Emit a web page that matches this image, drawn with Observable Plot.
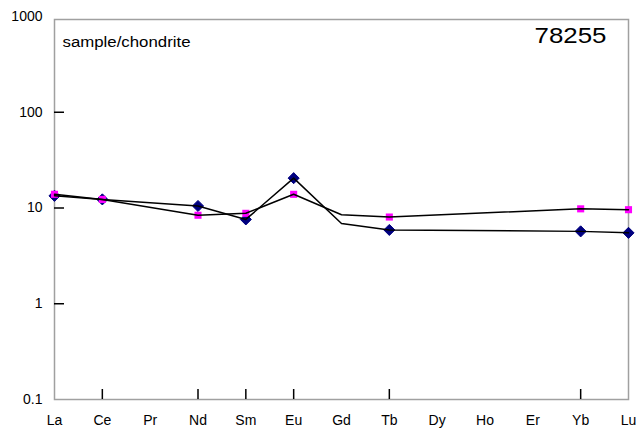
<!DOCTYPE html>
<html>
<head>
<meta charset="utf-8">
<script src="https://cdn.jsdelivr.net/npm/d3@7"></script>
<script src="https://cdn.jsdelivr.net/npm/@observablehq/plot@0.6"></script>
<style>
  html, body { margin: 0; padding: 0; background: #fff; }
  #chart { width: 639px; height: 432px; }
</style>
</head>
<body>
<div id="chart"></div>
<script>
// REE elements (x categories)
const elements = ["La","Ce","Pr","Nd","Sm","Eu","Gd","Tb","Dy","Ho","Er","Yb","Lu"];
// elements that have a value on the lines
const lineElements = ["La","Ce","Nd","Sm","Eu","Gd","Tb","Yb","Lu"];
// elements that carry a marker
const markerElements = ["La","Ce","Nd","Sm","Eu","Tb","Yb","Lu"];
// series values (sample/chondrite)
const seriesDiamond = [13.4, 12.3, 10.5, 7.6, 20.5, 6.9, 5.9, 5.7, 5.5];
const seriesSquare  = [13.9, 12.3, 8.4, 8.8, 13.9, 8.5, 8.05, 9.8, 9.6];
// axis ticks
const yTicks = [0.1, 1, 10, 100, 1000];
const yInnerTicks = [1, 10, 100];
const xInnerTicks = ["Ce","Nd","Sm","Eu","Tb","Yb"];
const sampleName = "78255";
const normLabel = "sample/chondrite";

const rowsA = lineElements.map((e, i) => ({el: e, v: seriesDiamond[i]}));
const rowsB = lineElements.map((e, i) => ({el: e, v: seriesSquare[i]}));
const markA = rowsA.filter(d => markerElements.includes(d.el));
const markB = rowsB.filter(d => markerElements.includes(d.el));

const chart = Plot.plot({
  width: 639,
  height: 432,
  marginLeft: 54,
  marginRight: 11,
  marginTop: 16,
  marginBottom: 33,
  style: {fontFamily: "'Liberation Sans', Arial, sans-serif", fontSize: "14px", color: "#000", background: "#fff"},
  x: {type: "point", domain: elements, padding: 0, round: false},
  y: {type: "log", domain: [0.1, 1000]},
  marks: [
    Plot.frame({stroke: "#a0a0a0", strokeWidth: 1.5, insetTop: 3}),
    Plot.axisY({ticks: yTicks, tickSize: 0, tickPadding: 12, tickFormat: d => String(d), label: null, fontSize: 14, fill: "#000"}),
    Plot.axisY({ticks: yInnerTicks, tickSize: 10, dx: 10, tickFormat: () => "", label: null, stroke: "#000", strokeWidth: 1.5}),
    Plot.axisX({tickSize: 0, tickPadding: 16, label: null, fontSize: 14, fill: "#000"}),
    Plot.axisX({ticks: xInnerTicks, tickSize: 10, dy: -10, tickFormat: () => "", label: null, stroke: "#000", strokeWidth: 1.5}),
    Plot.dot(markA, {x: "el", y: "v", symbol: "diamond2", r: 5, fill: "#000080", stroke: "#000080", strokeWidth: 1}),
    Plot.dot(markB, {x: "el", y: "v", symbol: "square", r: 4, fill: "#ff00ff"}),
    Plot.line(rowsA, {x: "el", y: "v", stroke: "#000", strokeWidth: 1.5}),
    Plot.line(rowsB, {x: "el", y: "v", stroke: "#000", strokeWidth: 1.5}),
    Plot.text([normLabel], {frameAnchor: "top-left", text: d => d, dx: 8, dy: 21, textAnchor: "start", lineAnchor: "top", fontSize: 14, fill: "#000", className: "normlab"}),
    Plot.text([sampleName], {frameAnchor: "top-right", text: d => d, dx: -22, dy: 11, textAnchor: "end", lineAnchor: "top", fontSize: 22, fill: "#000", className: "samplab"})
  ]
});
document.getElementById("chart").appendChild(chart);
d3.select(chart).selectAll(".normlab text").attr("textLength", 128).attr("lengthAdjust", "spacingAndGlyphs");
d3.select(chart).selectAll(".samplab text").attr("textLength", 72).attr("lengthAdjust", "spacingAndGlyphs");
</script>
</body>
</html>
